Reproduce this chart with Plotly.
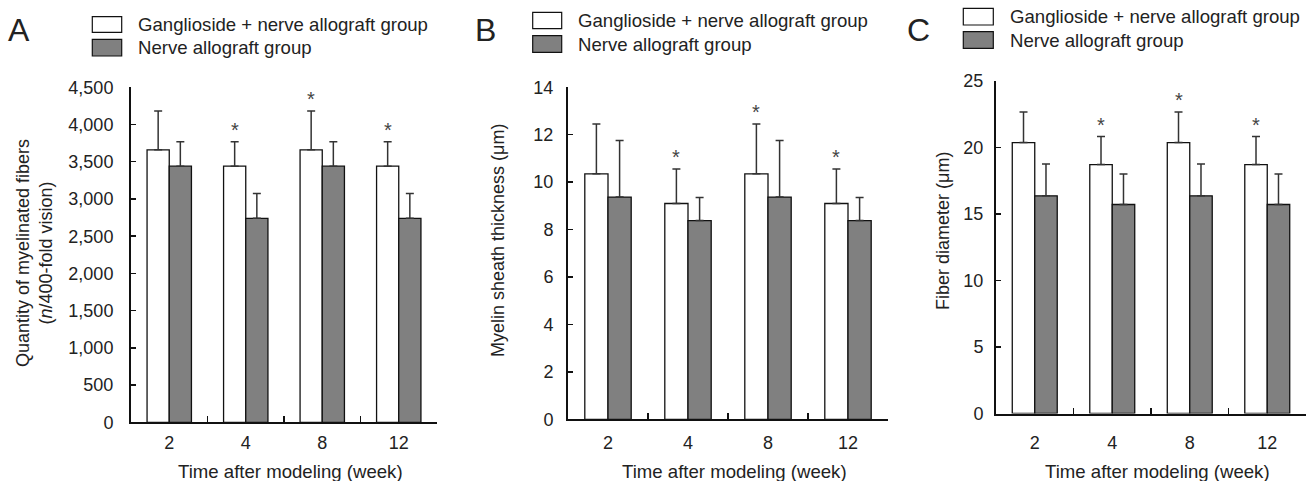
import plotly.graph_objects as go

W, H = 1312, 481

weeks = ["2", "4", "8", "12"]

# Panel A: quantity of myelinated fibers (n/400-fold vision)
a_gang = [3660, 3440, 3660, 3440]
a_gang_sd = [520, 330, 520, 330]
a_nerve = [3440, 2740, 3440, 2740]
a_nerve_sd = [330, 335, 330, 335]

# Panel B: myelin sheath thickness (um)
b_gang = [10.35, 9.1, 10.35, 9.1]
b_gang_sd = [2.1, 1.45, 2.1, 1.45]
b_nerve = [9.37, 8.38, 9.37, 8.38]
b_nerve_sd = [2.39, 0.97, 2.39, 0.97]

# Panel C: fiber diameter (um)
c_gang = [20.35, 18.7, 20.35, 18.7]
c_gang_sd = [2.3, 2.1, 2.3, 2.1]
c_nerve = [16.35, 15.7, 16.35, 15.7]
c_nerve_sd = [2.4, 2.3, 2.4, 2.3]

sig = [False, True, True, True]  # asterisk over ganglioside bar

legend_names = ["Ganglioside + nerve allograft group", "Nerve allograft group"]
panel_letters = ["A", "B", "C"]
y_titles = ["Quantity of myelinated fibers<br>(<i>n</i>/400-fold vision)",
            "Myelin sheath thickness (μm)",
            "Fiber diameter (μm)"]
x_title = "Time after modeling (week)"

FONT = "Liberation Sans, Arial, sans-serif"
TXT = "#222222"
GRAY = "#808080"
BARGAP = 0.42
TS = 18.6  # title / legend text size


def px(x):
    return x / W


def py(y):
    return 1 - y / H


panels = [
    dict(g=a_gang, gs=a_gang_sd, n=a_nerve, ns=a_nerve_sd, rng=[0, 4500], dt=500,
         xd=[131, 437], yd=[422.3, 87.3], ystand=12, xstand=3, fmt=","),
    dict(g=b_gang, gs=b_gang_sd, n=b_nerve, ns=b_nerve_sd, rng=[0, 14], dt=2,
         xd=[568, 888], yd=[419.3, 87.3], ystand=9, xstand=6, fmt=""),
    dict(g=c_gang, gs=c_gang_sd, n=c_nerve, ns=c_nerve_sd, rng=[0, 25], dt=5,
         xd=[996, 1306], yd=[413.5, 80.7], ystand=7, xstand=12, fmt=""),
]

fig = go.Figure()
layout = dict(width=W, height=H, margin=dict(l=0, r=0, t=0, b=0, autoexpand=False),
              paper_bgcolor="white", plot_bgcolor="white",
              barmode="group", bargap=BARGAP, bargroupgap=0,
              showlegend=False, font=dict(family=FONT, size=18, color=TXT))

annotations = []
shapes = []

for i, p in enumerate(panels):
    xa = "x" if i == 0 else f"x{i+1}"
    ya = "y" if i == 0 else f"y{i+1}"
    xkey = "xaxis" if i == 0 else f"xaxis{i+1}"
    ykey = "yaxis" if i == 0 else f"yaxis{i+1}"
    err = dict(type="data", symmetric=False, color="#333333", thickness=1.5, width=4)
    fig.add_trace(go.Bar(x=weeks, y=p["g"], name=legend_names[0], xaxis=xa, yaxis=ya,
                         marker=dict(color="white", line=dict(color="#111111", width=1.3)),
                         error_y=dict(err, array=p["gs"], arrayminus=[0] * 4)))
    fig.add_trace(go.Bar(x=weeks, y=p["n"], name=legend_names[1], xaxis=xa, yaxis=ya,
                         marker=dict(color=GRAY, line=dict(color="#111111", width=1.3)),
                         error_y=dict(err, array=p["ns"], arrayminus=[0] * 4)))
    layout[xkey] = dict(domain=[px(p["xd"][0]), px(p["xd"][1])], anchor=ya,
                        type="category", showline=True, linewidth=2, linecolor="#111111",
                        ticks="inside", tickson="boundaries", ticklen=6, tickwidth=1.5,
                        tickcolor="#111111", showgrid=False, zeroline=False,
                        automargin=False, ticklabelstandoff=p["xstand"],
                        tickfont=dict(size=18, color=TXT))
    tv = list(range(p["rng"][0], p["rng"][1] + 1, p["dt"]))
    layout[ykey] = dict(domain=[py(p["yd"][0]), py(p["yd"][1])], anchor=xa,
                        range=p["rng"], showline=True, linewidth=2, linecolor="#111111",
                        ticks="inside", ticklen=5, tickwidth=1.5, tickcolor="#111111",
                        tickvals=tv, tickformat=p["fmt"], showgrid=False, zeroline=False,
                        automargin=False, ticklabelstandoff=p["ystand"],
                        tickfont=dict(size=18, color=TXT))
    # asterisks over ganglioside bars
    off = (1 - BARGAP) / 4
    for k in range(4):
        if sig[k]:
            annotations.append(dict(x=k - off, y=p["g"][k] + p["gs"][k], xref=xa, yref=ya,
                                    text="*", showarrow=False, yanchor="middle", yshift=12,
                                    font=dict(size=20, color="#444444")))
    # x title
    annotations.append(dict(x=px((p["xd"][0] + p["xd"][1]) / 2 + 6), y=py(471),
                            xref="paper", yref="paper", text=x_title, showarrow=False,
                            xanchor="center", yanchor="middle",
                            font=dict(size=TS, color=TXT)))

# y titles
ytitle_pos = [(34, 253), (498, 241), (943, 231)]
for i, (xx, yy) in enumerate(ytitle_pos):
    annotations.append(dict(x=px(xx), y=py(yy), xref="paper", yref="paper",
                            text=y_titles[i], showarrow=False, textangle=-90,
                            xanchor="center", yanchor="middle",
                            font=dict(size=18, color=TXT)))

# panel letters
letter_pos = [(18.5, 30.5), (485, 30.5), (918, 30)]
for i, (xx, yy) in enumerate(letter_pos):
    annotations.append(dict(x=px(xx), y=py(yy), xref="paper", yref="paper",
                            text=panel_letters[i], showarrow=False,
                            xanchor="center", yanchor="middle",
                            font=dict(size=32, color=TXT)))

# legends (box positions in pixels)
legend_geo = [
    dict(bx=(92.3, 121.7), b1=(16.7, 32.3), b2=(39.3, 56), tx=136),
    dict(bx=(532.7, 561.7), b1=(12.3, 28.7), b2=(35.7, 52.3), tx=576),
    dict(bx=(963.3, 993.3), b1=(8.3, 25), b2=(31.7, 48.3), tx=1008),
]
for g in legend_geo:
    for (yb, fill, name) in [(g["b1"], "white", legend_names[0]),
                             (g["b2"], GRAY, legend_names[1])]:
        shapes.append(dict(type="rect", xref="paper", yref="paper",
                           x0=px(g["bx"][0]), x1=px(g["bx"][1]),
                           y0=py(yb[1]), y1=py(yb[0]),
                           fillcolor=fill, line=dict(color="#111111", width=1.2)))
        annotations.append(dict(x=px(g["tx"]), y=py((yb[0] + yb[1]) / 2),
                                xref="paper", yref="paper", text=name,
                                showarrow=False, xanchor="left", yanchor="middle",
                                font=dict(size=TS, color=TXT)))

layout["annotations"] = annotations
layout["shapes"] = shapes
fig.update_layout(**layout)
fig.write_html("out.html", config={"displayModeBar": False, "staticPlot": True},
               post_script="document.body.style.margin='0';document.body.style.padding='0';")
